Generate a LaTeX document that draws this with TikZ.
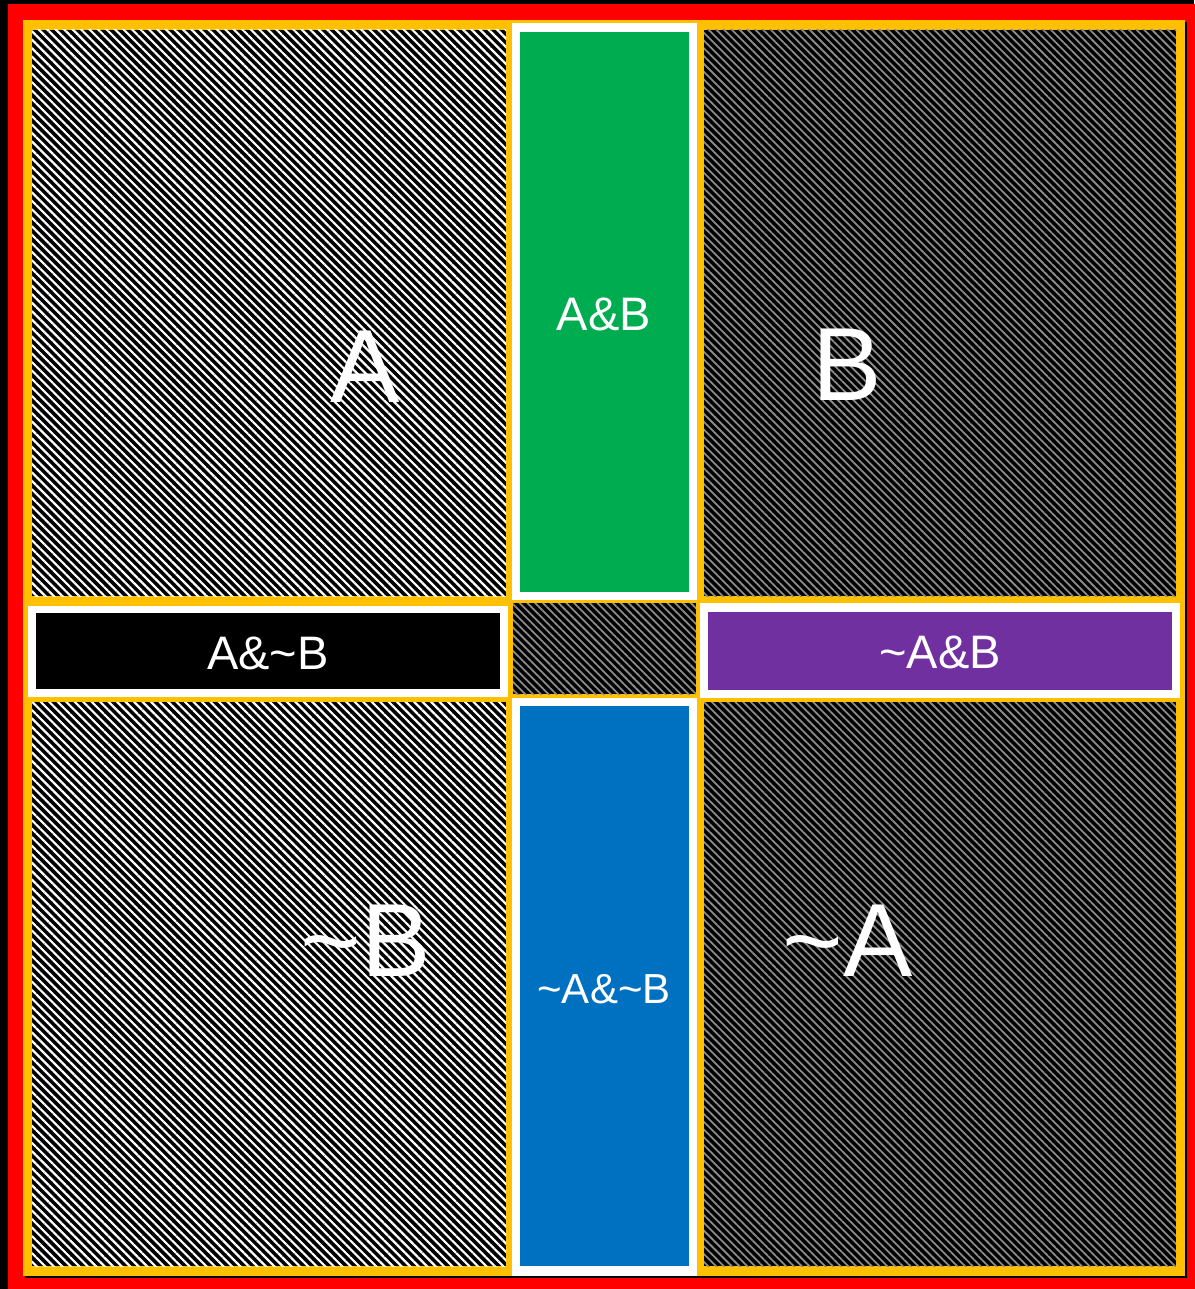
\documentclass[tikz,border=0pt]{standalone}
\usepackage{fontspec}
\setmainfont{Liberation Sans}
\usetikzlibrary{patterns.meta}
\definecolor{frred}{RGB}{255,0,0}
\definecolor{frorange}{RGB}{255,192,0}
\definecolor{cgreen}{RGB}{0,172,80}
\definecolor{cblue}{RGB}{0,112,192}
\definecolor{cpurple}{RGB}{112,48,160}
\tikzset{
  sharppat/.style={pattern={Lines[angle=-45,distance=6pt,line width=2.2pt]},pattern color=white},
  softpat/.style={pattern={Lines[angle=-45,distance=5.5pt,line width=1.8pt]},pattern color=white!55!black},
  bigtxt/.style={text=white,font=\fontsize{104}{110}\selectfont,inner sep=0pt,anchor=base},
  smalltxt/.style={text=white,font=\fontsize{47}{50}\selectfont,inner sep=0pt,anchor=base},
  smallertxt/.style={text=white,font=\fontsize{42}{44}\selectfont,inner sep=0pt,anchor=base},
  whiteframe/.style={fill=white}
}
\begin{document}
\begin{tikzpicture}[x=1pt,y=-1pt]
\useasboundingbox (0,0) rectangle (1194,1289);
\fill[black] (0,0) rectangle (1194,1289);
% red frame
\fill[frred] (8,4) rectangle (1200,1295);
% shadow and orange frame
\fill[black] (25,22) rectangle (1187,1278);
\fill[frorange] (23,20) rectangle (1185,1276);
% patterned quadrants
\fill[black] (32,30) rectangle (506,596);
\fill[sharppat] (32,30) rectangle (506,596);
\fill[black] (32,702) rectangle (506,1266);
\fill[sharppat] (32,702) rectangle (506,1266);
\fill[black] (704,30) rectangle (1176,596);
\fill[softpat] (704,30) rectangle (1176,596);
\fill[black] (704,702) rectangle (1176,1266);
\fill[softpat] (704,702) rectangle (1176,1266);
\fill[black] (513,603) rectangle (696,694);
\fill[softpat] (513,603) rectangle (696,694);
% green A&B
\fill[whiteframe] (512,23) rectangle (697,600);
\fill[cgreen] (520,32) rectangle (689,592);
% blue ~A&~B
\fill[whiteframe] (512,698) rectangle (697,1276);
\fill[cblue] (520,706) rectangle (689,1266);
% black A&~B
\fill[whiteframe] (28,606) rectangle (508,697);
\fill[black] (36,613) rectangle (500,689);
% purple ~A&B
\fill[whiteframe] (700,603) rectangle (1180,698);
\fill[cpurple] (708,612) rectangle (1172,690);
% labels
\node[bigtxt] (lA) at (365,402) {A};
\node[bigtxt] (lB) at (847,400) {B};
\node[bigtxt] (lnB) at (366,976) {\char`\~B};
\node[bigtxt] (lnA) at (848,976) {\char`\~A};
\node[smalltxt] (lAB) at (604,330) {A\&B};
\node[smalltxt] (lAnB) at (268,669) {A\&\char`\~B};
\node[smalltxt] (lnAB) at (940,668) {\char`\~A\&B};
\node[smallertxt] (lnAnB) at (604,1003) {\char`\~A\&\char`\~B};
\end{tikzpicture}
\end{document}
